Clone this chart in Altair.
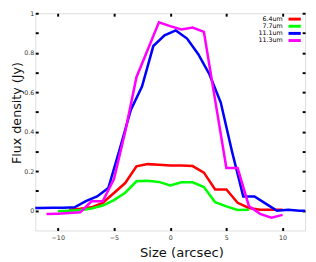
import altair as alt
import pandas as pd

# ---- data ----
series_names = ["6.4um", "7.7um", "11.1um", "11.3um"]
series_colors = ["#ff0000", "#00ff00", "#0000ff", "#ff00ff"]

x_64 = [-9, -8, -7, -6, -5, -4, -3, -2, -1, 0, 1, 2, 3, 4, 5, 6, 7, 8, 9, 10]
y_64 = [0.005, 0.01, 0.017, 0.04, 0.09, 0.14, 0.225, 0.236, 0.233, 0.229, 0.229, 0.226,
        0.193, 0.108, 0.108, 0.04, 0.014, 0.005, 0.005, 0.005]

x_77 = [-10, -9, -8, -7, -6, -5, -4, -3, -2, -1, 0, 1, 2, 3, 4, 5, 6, 7]
y_77 = [-0.003, 0.0, 0.003, 0.011, 0.026, 0.054, 0.091, 0.149, 0.152, 0.146, 0.128, 0.144,
        0.144, 0.12, 0.043, 0.022, 0.004, 0.005]

x_111 = [-12.5, -11.5, -10.5, -9.5, -8.5, -7.5, -6.5, -5.5, -4.5, -3.5, -2.5, -1.5, -0.5,
         0.5, 1.5, 2.5, 3.5, 4.5, 5.5, 6.5, 7.5, 8.5, 9.5, 10.5, 11.5, 12.5]
y_111 = [0.014, 0.014, 0.015, 0.015, 0.017, 0.049, 0.072, 0.115, 0.31, 0.51, 0.63, 0.834,
         0.888, 0.913, 0.872, 0.793, 0.69, 0.548, 0.30, 0.072, 0.072, 0.036, 0.0, 0.005,
         0.0, 0.0]

x_113 = [-11, -10, -9, -8, -7, -6, -5, -4, -3, -2, -1, 0, 1, 2, 3, 4, 5, 6, 7, 8, 9, 10]
y_113 = [-0.017, -0.015, -0.012, -0.008, 0.048, 0.048, 0.16, 0.40, 0.676, 0.815, 0.954,
         0.935, 0.918, 0.928, 0.906, 0.56, 0.216, 0.216, 0.024, -0.016, -0.035, -0.021]

x_ticks = [-10, -5, 0, 5, 10]
y_ticks = [0.0, 0.1, 0.2, 0.3, 0.4, 0.5, 0.6, 0.7, 0.8, 0.9, 1.0]

rows = []
for name, xs, ys in zip(series_names, [x_64, x_77, x_111, x_113], [y_64, y_77, y_111, y_113]):
    for xv, yv in zip(xs, ys):
        rows.append({"series": name, "x": xv, "y": yv})
df = pd.DataFrame(rows)
legend_df = pd.DataFrame({"series": series_names, "row": list(range(len(series_names)))})

FONT = "DejaVu Sans"

xscale = alt.Scale(domain=[-12, 12], nice=False, zero=False)
yscale = alt.Scale(domain=[-0.1, 1.0], nice=False, zero=False)
cscale = alt.Scale(domain=series_names, range=series_colors)

lines = alt.Chart(df).mark_line(strokeWidth=2.6, clip=True).encode(
    x=alt.X("x:Q", scale=xscale,
            axis=alt.Axis(values=x_ticks, orient="bottom", offset=-3, tickSize=3, tickWidth=2,
                          tickColor="black", domain=False, grid=False, labelFontSize=6.5,
                          labelColor="#333333", labelPadding=4, labelFont=FONT,
                          title="Size (arcsec)", titleFontSize=13.5, titleFont=FONT,
                          titleFontWeight="normal", titleColor="#111111",
                          titleX=150, titleY=30, titleBaseline="alphabetic",
                          titleAnchor="middle")),
    y=alt.Y("y:Q", scale=yscale,
            axis=alt.Axis(values=y_ticks, orient="left", offset=-3, tickSize=3, tickWidth=2,
                          tickColor="black", domain=False, grid=False, labelFontSize=6.5,
                          labelColor="#333333", labelPadding=1.5, labelFont=FONT,
                          format="~g",
                          labelExpr="round(datum.value*10) % 2 == 0 ? datum.label : ''",
                          title="Flux density (Jy)", titleFontSize=13, titleFont=FONT,
                          titleFontWeight="normal", titleColor="#111111",
                          titleX=-18, titleY=102, titleAngle=270,
                          titleBaseline="alphabetic", titleAlign="center")),
    color=alt.Color("series:N", scale=cscale, legend=None),
    order=alt.Order("x:Q"),
)

frame_axes = alt.Chart(df).mark_line(opacity=0).encode(
    x=alt.X("x:Q", scale=xscale, title=None,
            axis=alt.Axis(values=x_ticks, orient="top", offset=-3, tickSize=3, tickWidth=2,
                          tickColor="black", domain=False, grid=False, labels=False)),
    y=alt.Y("y:Q", scale=yscale, title=None,
            axis=alt.Axis(values=y_ticks, orient="right", offset=-3, tickSize=3, tickWidth=2,
                          tickColor="black", domain=False, grid=False, labels=False)),
    detail="series:N",
)

# legend (labels on the left, colour swatches on the right, as in the reference)
row_y = alt.Y("row:Q", scale=alt.Scale(domain=[0, 3], range=[6, 28]), axis=None)
legend_text = alt.Chart(legend_df).mark_text(
    align="right", baseline="middle", fontSize=6.5, font=FONT, color="black"
).encode(x=alt.value(254), y=row_y, text="series:N")
legend_swatch = alt.Chart(legend_df).mark_rule(strokeWidth=3).encode(
    x=alt.value(260), x2=alt.value(272.6), y=row_y,
    color=alt.Color("series:N", scale=cscale, legend=None),
)

chart = alt.layer(lines, frame_axes, legend_text, legend_swatch).resolve_scale(
    y="independent"
).properties(
    width=277, height=223,
    autosize=alt.AutoSizeParams(type="none"),
    padding={"left": 28, "top": 2, "right": 3, "bottom": 30},
).configure_view(stroke="black", strokeWidth=2.5).configure(font=FONT)

chart.save("out.html", embed_options={"renderer": "svg", "actions": False})
